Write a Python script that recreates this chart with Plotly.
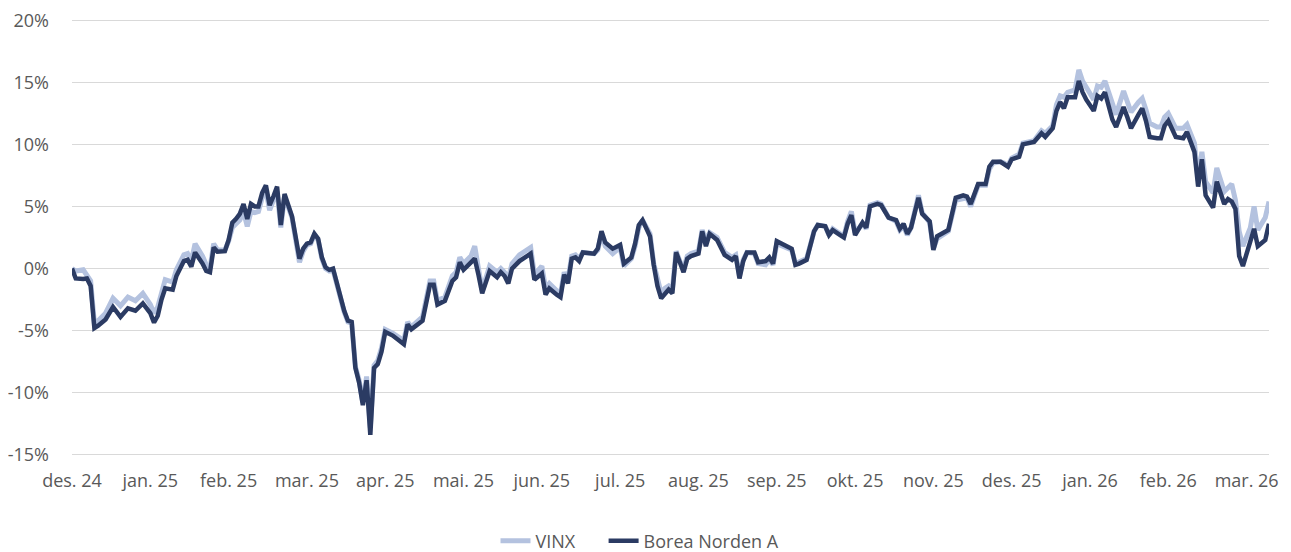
import plotly.graph_objects as go

# Trading-day index (0 = first day of the series)
day = [0, 1, 3, 4, 5, 6, 7, 9, 11, 13, 15, 17, 19, 21, 22, 23, 24, 25, 27, 28,
       30, 31, 32, 33, 35, 36, 37, 38, 39, 41, 42, 43, 44, 45, 46, 47, 48, 49, 50, 51,
       52, 53, 54, 55, 56, 57, 59, 60, 61, 62, 63, 64, 65, 66, 67, 68, 69, 70, 72, 73,
       74, 75, 76, 77, 78, 79, 80, 81, 82, 83, 84, 86, 89, 90, 91, 94, 96, 97, 98, 100,
       102, 103, 104, 105, 107, 108, 109, 110, 112, 114, 115, 116, 117, 118, 120, 123, 124, 125, 126, 127,
       128, 130, 131, 132, 133, 134, 135, 136, 137, 140, 141, 142, 143, 145, 147, 148, 150, 151, 152, 153,
       155, 156, 157, 158, 159, 160, 161, 162, 163, 164, 165, 166, 168, 169, 170, 171, 173, 175, 177, 178,
       179, 180, 181, 183, 184, 186, 187, 188, 189, 191, 193, 194, 195, 197, 199, 200, 202, 203, 204, 206,
       207, 208, 209, 210, 212, 213, 214, 216, 217, 219, 221, 222, 223, 224, 225, 227, 228, 230, 231, 232,
       234, 235, 237, 239, 240, 241, 243, 245, 246, 247, 249, 250, 251, 252, 254, 255, 258, 260, 261, 263,
       264, 265, 266, 267, 269, 270, 271, 272, 273, 274, 275, 276, 277, 278, 279, 280, 282, 283, 284, 286,
       287, 288, 289, 291, 292, 293, 294, 296, 298, 299, 300, 301, 302, 303, 304, 306, 307, 309, 310, 311,
       312, 313, 314, 316, 317, 318, 320, 321]

borea = [0.0, -0.8, -0.85, -0.8, -1.4, -4.8, -4.6, -4.1, -3.1, -3.9, -3.2, -3.4, -2.8, -3.6, -4.35, -3.8, -2.5, -1.6, -1.7, -0.6,
         0.6, 0.7, 0.15, 1.3, 0.4, -0.2, -0.3, 1.7, 1.35, 1.4, 2.3, 3.7, 4.0, 4.4, 5.2, 4.0, 5.2, 5.0, 5.0, 6.1,
         6.7, 5.1, 5.8, 6.6, 3.5, 6.0, 4.2, 2.2, 0.8, 1.6, 2.0, 2.1, 2.8, 2.4, 0.9, 0.1, -0.1, 0.0, -2.5, -3.4,
         -4.2, -4.3, -8.0, -9.2, -11.0, -9.0, -13.4, -8.0, -7.7, -6.7, -5.1, -5.4, -6.1, -4.5, -4.9, -4.2, -1.3, -1.3, -2.9, -2.6,
         -1.0, -0.7, 0.5, -0.1, 0.5, 0.8, -0.5, -2.0, -0.2, -0.7, -0.3, -0.6, -1.2, 0.0, 0.6, 1.2, -0.9, -0.6, -0.4, -2.1,
         -1.6, -2.1, -2.3, -0.5, -1.2, 0.8, 0.9, 0.6, 1.3, 1.2, 1.6, 3.0, 2.1, 1.6, 1.9, 0.4, 0.9, 2.0, 3.5, 3.9,
         2.6, 0.3, -1.4, -2.4, -2.0, -1.7, -2.0, 1.3, 0.5, -0.3, 0.8, 1.0, 1.2, 3.0, 1.8, 2.8, 2.3, 1.1, 0.7, 1.0,
         -0.8, 0.6, 1.3, 1.3, 0.5, 0.6, 0.9, 0.4, 2.2, 1.9, 1.6, 0.3, 0.4, 0.7, 3.0, 3.5, 3.4, 2.7, 3.1, 2.7,
         2.5, 3.6, 4.3, 2.7, 3.7, 3.3, 5.0, 5.2, 5.1, 4.1, 3.9, 3.2, 3.6, 2.8, 3.3, 5.7, 4.4, 3.8, 1.5, 2.6,
         2.9, 3.1, 5.7, 5.9, 5.8, 5.2, 6.8, 6.8, 8.2, 8.6, 8.6, 8.4, 8.2, 8.8, 9.0, 10.0, 10.2, 10.9, 10.6, 11.3,
         12.7, 13.4, 12.9, 13.8, 13.8, 15.1, 14.2, 13.6, 13.1, 12.7, 13.9, 13.7, 14.2, 13.2, 12.0, 11.4, 13.0, 12.2, 11.3, 12.4,
         12.9, 11.9, 10.6, 10.5, 10.5, 11.5, 11.9, 10.6, 10.5, 11.0, 10.2, 9.4, 6.6, 8.8, 5.9, 4.9, 7.0, 5.2, 5.6, 5.4,
         4.8, 1.0, 0.2, 2.2, 3.2, 1.8, 2.3, 3.6]

vinx = [0.0, -0.2, -0.1, -0.5, -1.0, -4.4, -4.2, -3.6, -2.4, -3.0, -2.3, -2.6, -2.0, -2.9, -3.6, -3.1, -1.9, -0.9, -1.1, -0.1,
        1.1, 1.2, 0.6, 2.0, 1.0, 0.3, 0.0, 2.0, 1.5, 1.5, 2.2, 3.3, 3.6, 3.9, 4.6, 3.4, 4.6, 4.5, 4.6, 5.7,
        6.3, 4.7, 5.5, 6.2, 3.3, 5.8, 4.1, 2.1, 0.5, 1.4, 1.9, 2.0, 2.7, 2.3, 0.8, 0.0, -0.2, -0.1, -2.6, -3.5,
        -4.3, -4.4, -7.9, -9.0, -10.8, -8.7, -12.8, -7.8, -7.4, -6.4, -4.9, -5.2, -5.8, -4.3, -4.7, -3.9, -1.0, -1.0, -2.6, -2.3,
        -0.6, -0.3, 0.9, 0.4, 1.0, 1.8, 0.0, -1.7, 0.2, -0.3, 0.0, -0.3, -0.8, 0.4, 1.1, 1.7, -0.5, -0.1, 0.2, -1.6,
        -1.2, -1.8, -2.0, -0.3, -0.9, 1.0, 1.1, 0.8, 1.3, 1.2, 1.5, 2.8, 1.8, 1.2, 1.7, 0.2, 0.8, 1.8, 3.3, 3.9,
        2.8, 0.4, -1.0, -2.0, -1.6, -1.4, -1.7, 1.4, 0.6, 0.0, 1.0, 1.2, 1.4, 3.1, 2.3, 2.9, 2.5, 1.3, 0.9, 1.1,
        -0.6, 0.7, 1.3, 1.2, 0.4, 0.3, 0.7, 0.3, 2.0, 1.8, 1.5, 0.4, 0.5, 0.8, 3.0, 3.5, 3.4, 2.7, 3.2, 2.8,
        2.6, 3.8, 4.6, 2.9, 3.6, 3.2, 5.1, 5.3, 5.2, 4.1, 3.8, 3.1, 3.4, 2.7, 3.3, 5.9, 4.5, 3.7, 1.6, 2.4,
        2.8, 3.0, 5.5, 5.6, 5.7, 5.0, 6.7, 6.7, 8.0, 8.5, 8.6, 8.5, 8.3, 8.9, 9.2, 10.1, 10.3, 11.1, 10.9, 11.5,
        13.2, 13.9, 13.8, 14.2, 14.4, 16.0, 15.1, 14.6, 14.0, 13.6, 14.7, 14.6, 15.1, 14.2, 13.1, 12.4, 14.3, 13.4, 12.6, 13.4,
        13.7, 12.8, 11.7, 11.4, 11.4, 12.2, 12.5, 11.3, 11.3, 11.6, 10.9, 10.1, 7.1, 9.4, 7.0, 6.1, 8.1, 6.2, 6.5, 6.8,
        5.5, 3.0, 1.8, 3.3, 5.0, 3.1, 4.1, 5.4]

month_labels = ["des. 24", "jan. 25", "feb. 25", "mar. 25", "apr. 25", "mai. 25", "jun. 25", "jul. 25",
                "aug. 25", "sep. 25", "okt. 25", "nov. 25", "des. 25", "jan. 26", "feb. 26", "mar. 26"]
days_per_label = 21
y_ticks = [-15, -10, -5, 0, 5, 10, 15, 20]

FONT = "Open Sans"
TXT = "#595959"
GRID = "#d9d9d9"
LEGEND_PAD = "\u00a0" * 5  # extra gap after the first legend entry

fig = go.Figure()
fig.add_trace(go.Scatter(x=day, y=vinx, mode="lines", name="VINX" + LEGEND_PAD,
                         line=dict(color="#b4c2df", width=5, shape="linear")))
fig.add_trace(go.Scatter(x=day, y=borea, mode="lines", name="Borea Norden A",
                         line=dict(color="#2b3b63", width=4.5, shape="linear")))

fig.update_layout(
    width=1283, height=544,
    margin=dict(l=64, r=22, t=11, b=96, autoexpand=False),
    paper_bgcolor="white", plot_bgcolor="white",
    font=dict(family=FONT, size=18, color=TXT),
    showlegend=True,
    legend=dict(orientation="h", xref="container", x=0.4926, xanchor="center",
                yref="container", y=0.0202, yanchor="middle",
                font=dict(family=FONT, size=18, color=TXT)),
)
fig.update_xaxes(
    range=[0, 321], showgrid=False, zeroline=False, showline=False,
    tickmode="array",
    tickvals=[i * days_per_label for i in range(len(month_labels))],
    ticktext=month_labels, ticks="", ticklabelstandoff=12,
    ticklabeloverflow="allow",
)
fig.update_yaxes(
    range=[-15.1, 20.1], tickmode="array", tickvals=y_ticks,
    ticktext=[f"{v}%" for v in y_ticks],
    showgrid=True, gridcolor=GRID, gridwidth=1, zeroline=False, showline=False,
    ticks="", ticklabelstandoff=22, ticklabeloverflow="allow",
)

fig.write_html("out.html")
